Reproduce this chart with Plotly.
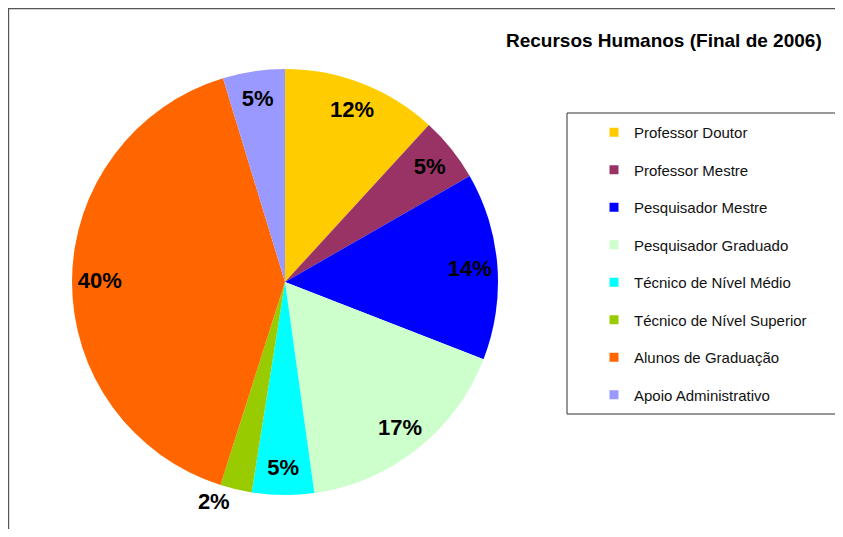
import plotly.graph_objects as go

# The page body adds an 8 px margin: page coordinate p -> figure coordinate p - 8
OFF = 8
W, H = 843 - 2 * OFF, 537 - 2 * OFF

categories = ["Professor Doutor", "Professor Mestre", "Pesquisador Mestre",
              "Pesquisador Graduado", "Técnico de Nível Médio",
              "Técnico de Nível Superior", "Alunos de Graduação",
              "Apoio Administrativo"]
values = [11.8, 4.9, 14.2, 16.9, 4.7, 2.4, 40.4, 4.7]
colors = ["#FFCC00", "#993366", "#0000FF", "#CCFFCC", "#00FFFF",
          "#99CC00", "#FF6600", "#9999FF"]
text_positions = ["inside", "inside", "inside", "inside", "inside",
                  "outside", "inside", "inside"]
title_text = "Recursos Humanos (Final de 2006)"

FONT = "Liberation Sans, Arial, sans-serif"


def fx(p):
    return (p - OFF) / W


def fy(p):
    return 1 - (p - OFF) / H


# pie centre (page px) and radius
cx, cy, r = 285, 282, 213
dom = dict(x=[fx(cx - r), fx(cx + r)], y=[fy(cy + r), fy(cy - r)])

fig = go.Figure()

# coloured pie
fig.add_trace(go.Pie(
    labels=categories, values=values, sort=False, direction="clockwise",
    rotation=0, marker=dict(colors=colors, line=dict(width=0)),
    textinfo="none", showlegend=False, domain=dom, hoverinfo="label+percent",
))

# transparent ring carrying the percentage labels near the rim
fig.add_trace(go.Pie(
    labels=categories, values=values, sort=False, direction="clockwise",
    rotation=0, hole=0.74,
    marker=dict(colors=["rgba(0,0,0,0)"] * len(values), line=dict(width=0)),
    texttemplate="<b>%{percent:.0%}</b>",
    textposition=text_positions,
    insidetextorientation="horizontal",
    textfont=dict(family=FONT, size=22, color="#000000"),
    outsidetextfont=dict(family=FONT, size=22, color="#000000"),
    showlegend=False, domain=dom, hoverinfo="skip",
))

# legend entries
for name, col in zip(categories, colors):
    fig.add_trace(go.Scatter(
        x=[None], y=[None], mode="markers", name=name, legendgroup=name,
        marker=dict(symbol="square", size=9, color=col),
    ))

fig.update_layout(
    width=W, height=H,
    margin=dict(l=0, r=0, t=0, b=0),
    paper_bgcolor="white", plot_bgcolor="white",
    xaxis=dict(visible=False), yaxis=dict(visible=False),
    annotations=[dict(
        text="<b>" + title_text + "</b>", x=fx(504), y=fy(40),
        xref="paper", yref="paper", xanchor="left", yanchor="middle",
        showarrow=False, font=dict(family=FONT, size=19, color="#000000"))],
    legend=dict(
        x=fx(594), y=fy(116), xanchor="left", yanchor="top",
        font=dict(family=FONT, size=15, color="#111111"),
        tracegroupgap=15, bgcolor="rgba(0,0,0,0)", borderwidth=0,
    ),
    shapes=[
        dict(type="rect", xref="paper", yref="paper",
             x0=0.6 / W, x1=1.2, y0=-0.2, y1=1 - 0.6 / H,
             line=dict(color="#555555", width=1.2)),
        dict(type="rect", xref="paper", yref="paper",
             x0=fx(567), x1=1.2, y0=fy(414), y1=fy(113),
             line=dict(color="#333333", width=1)),
    ],
)

fig.write_html("out.html")
